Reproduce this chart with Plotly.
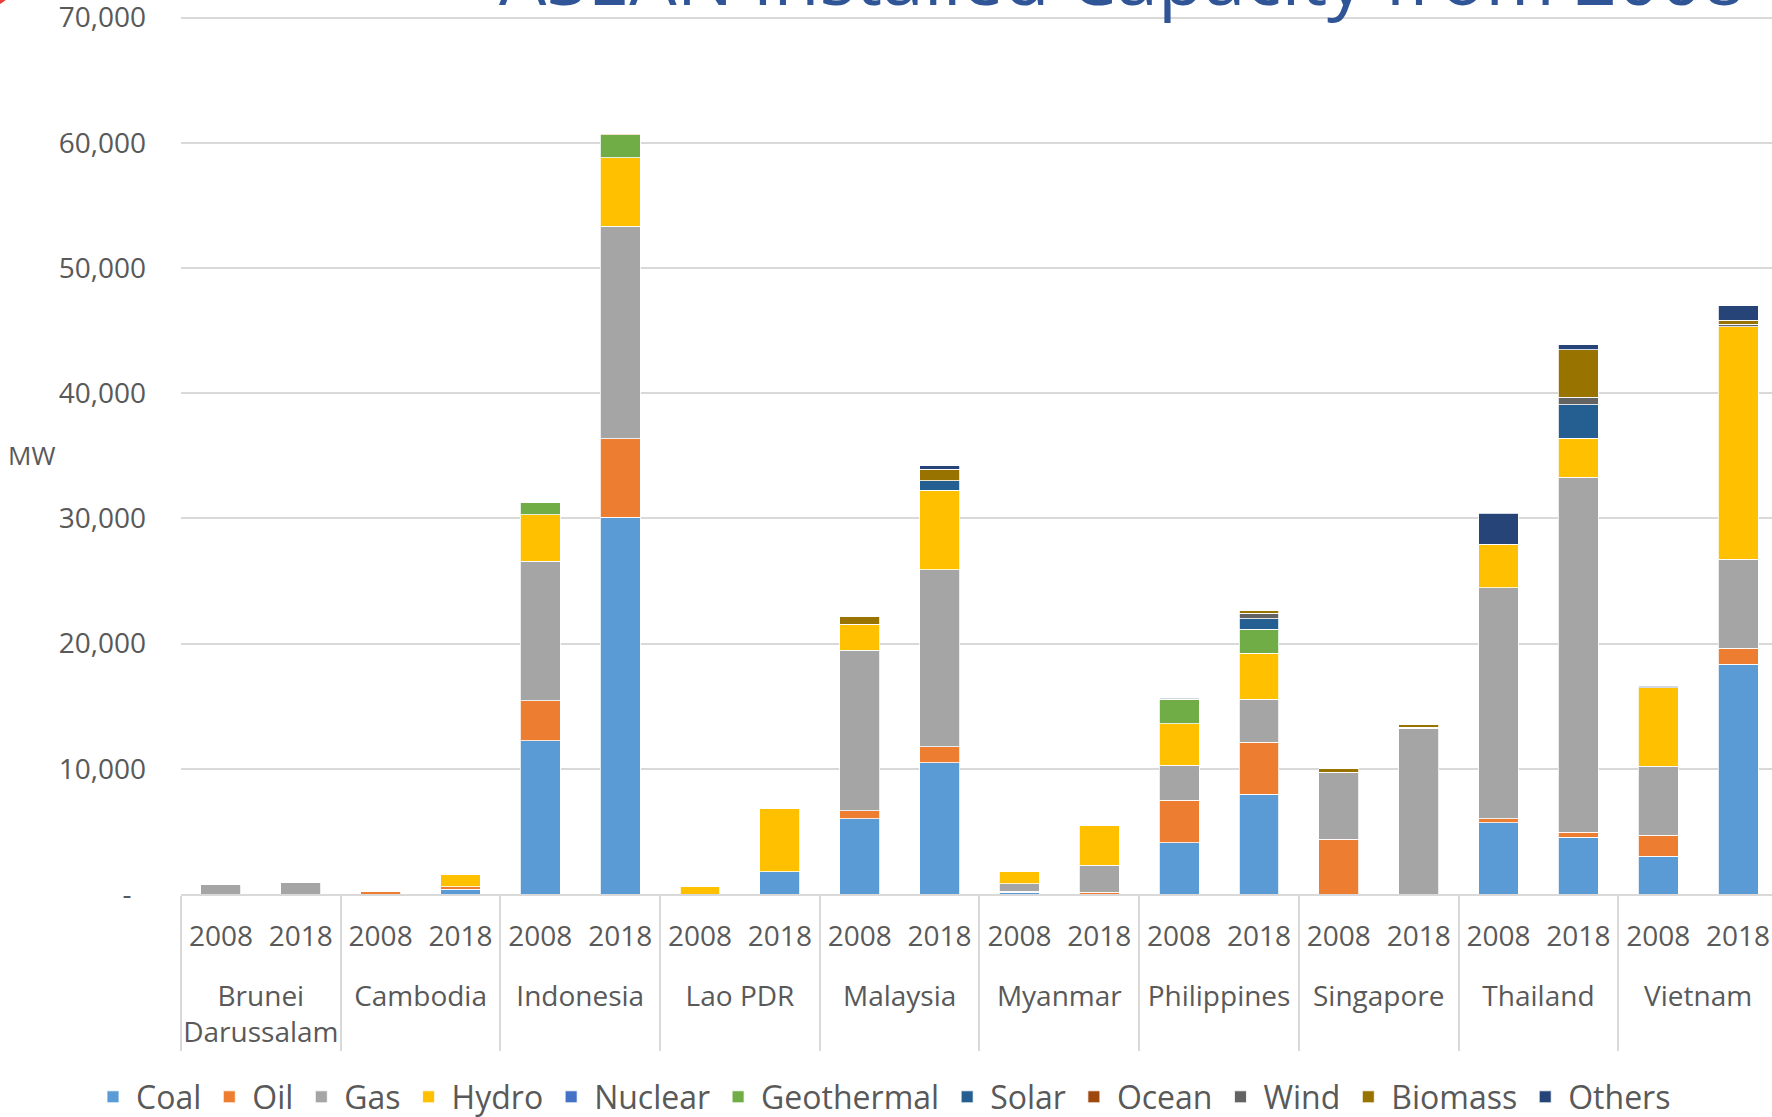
import plotly.graph_objects as go

countries = ["Brunei<br>Darussalam", "Cambodia", "Indonesia", "Lao PDR", "Malaysia",
             "Myanmar", "Philippines", "Singapore", "Thailand", "Vietnam"]
years = ["2008", "2018"]

# values in MW, order: each country -> 2008, 2018
coal       = [0, 0, 0, 370, 12230, 30100, 0, 1780, 6020, 10470, 160, 0, 4080, 7970, 0, 0, 5690, 4550, 3030, 18350]
oil        = [0, 0, 240, 190, 3220, 6270, 0, 0, 610, 1280, 80, 130, 3400, 4150, 4370, 0, 330, 370, 1680, 1260]
gas        = [750, 930, 0, 0, 11130, 16960, 0, 0, 12840, 14140, 590, 2160, 2800, 3440, 5350, 13230, 18450, 28350, 5500, 7120]
hydro      = [0, 0, 0, 1010, 3710, 5460, 590, 5040, 2080, 6360, 930, 3200, 3330, 3650, 0, 0, 3480, 3120, 6270, 18580]
nuclear    = [0] * 20
geothermal = [0, 0, 0, 0, 1020, 1840, 0, 0, 0, 0, 0, 0, 1940, 1920, 0, 0, 0, 0, 0, 0]
solar      = [0, 10, 0, 0, 0, 0, 0, 0, 0, 770, 0, 0, 0, 850, 0, 100, 0, 2690, 0, 0]
ocean      = [0] * 20
wind       = [0, 0, 0, 0, 0, 0, 0, 40, 0, 0, 0, 0, 0, 430, 0, 0, 0, 610, 0, 190]
biomass    = [0, 0, 0, 80, 0, 120, 0, 0, 590, 910, 0, 0, 0, 240, 270, 200, 0, 3790, 0, 320]
others     = [0, 0, 0, 0, 0, 0, 0, 0, 0, 270, 0, 0, 100, 0, 0, 0, 2470, 400, 130, 1150]

series_names = ["Coal", "Oil", "Gas", "Hydro", "Nuclear", "Geothermal", "Solar",
                "Ocean", "Wind", "Biomass", "Others"]
series_values = [coal, oil, gas, hydro, nuclear, geothermal, solar, ocean, wind, biomass, others]
series_colors = ["#5B9BD5", "#ED7D31", "#A5A5A5", "#FFC000", "#4472C4", "#70AD47",
                 "#255E91", "#9E480E", "#636363", "#997300", "#264478"]

y_tickvals = [0, 10000, 20000, 30000, 40000, 50000, 60000, 70000]
y_ticktext = ["-\u00a0\u00a0", "10,000", "20,000", "30,000", "40,000", "50,000", "60,000", "70,000"]

title_text = "ASEAN Installed Capacity from 2008 to 2018"

# leading line break pushes the country level further below the year level
x_country = ["<br>" + c for c in countries for _ in years]
x_year = [y for _ in countries for y in years]

FONT = "Open Sans"
GREY = "#595959"

fig = go.Figure()
for name, vals, color in zip(series_names, series_values, series_colors):
    fig.add_trace(go.Bar(
        x=[x_country, x_year], y=vals, name=name,
        marker=dict(color=color, line=dict(color="white", width=0.8)),
    ))

W, H = 1772, 1117
L, R, T, B = 181, 0, 0, 223
base_px = H - B                      # y pixel of the axis line (894)
px_per = 125.2 / 10000
Y_TOP = base_px / px_per             # plot top at pixel 0
plot_w = W - L - R
plot_h = H - T - B


def py(px):
    """pixel row -> paper y"""
    return (base_px - px) / plot_h


def pxx(px):
    """pixel column -> paper x"""
    return (px - L) / plot_w


fig.update_layout(
    width=W, height=H,
    margin=dict(l=L, r=R, t=T, b=B, pad=0, autoexpand=False),
    barmode="stack", bargap=0.5,
    paper_bgcolor="white", plot_bgcolor="white",
    font=dict(family=FONT, color=GREY, size=28),
    showlegend=True,
    legend=dict(orientation="h", xref="container", x=883 / W, xanchor="center",
                y=py(1097), yanchor="middle",
                font=dict(size=32, color=GREY, family=FONT),
                traceorder="normal", itemwidth=36, bgcolor="rgba(0,0,0,0)"),
    xaxis=dict(type="multicategory", range=[-0.5, 19.425], automargin=False,
               showline=True, linecolor="#D9D9D9", linewidth=1.5,
               showdividers=True, dividercolor="#D9D9D9", dividerwidth=1.5,
               ticks="", tickfont=dict(size=28, color=GREY, family=FONT),
               ticklabelstandoff=17, showgrid=False, zeroline=False),
    yaxis=dict(range=[0, Y_TOP], tickvals=y_tickvals, ticktext=y_ticktext,
               automargin=False, ticklabeloverflow="allow",
               showgrid=True, gridcolor="#D9D9D9", gridwidth=1.5,
               zeroline=False, showline=False, ticks="",
               tickfont=dict(size=28, color=GREY, family=FONT),
               ticklabelstandoff=34),
)

fig.add_annotation(text="MW", xref="paper", yref="paper",
                   x=pxx(6), y=py(455),
                   xanchor="left", yanchor="middle", showarrow=False,
                   font=dict(size=26, color=GREY, family=FONT))

fig.add_annotation(text=title_text, xref="paper", yref="paper",
                   x=pxx(497), y=py(-24),
                   xanchor="left", yanchor="middle", showarrow=False,
                   font=dict(size=75, color="#2F5597", family=FONT))

fig.add_shape(type="circle", xref="paper", yref="paper",
              x0=pxx(-30), x1=pxx(12), y0=py(6), y1=py(-36),
              fillcolor="#E8403A", line=dict(width=0), layer="above")

fig.write_html("out.html")
